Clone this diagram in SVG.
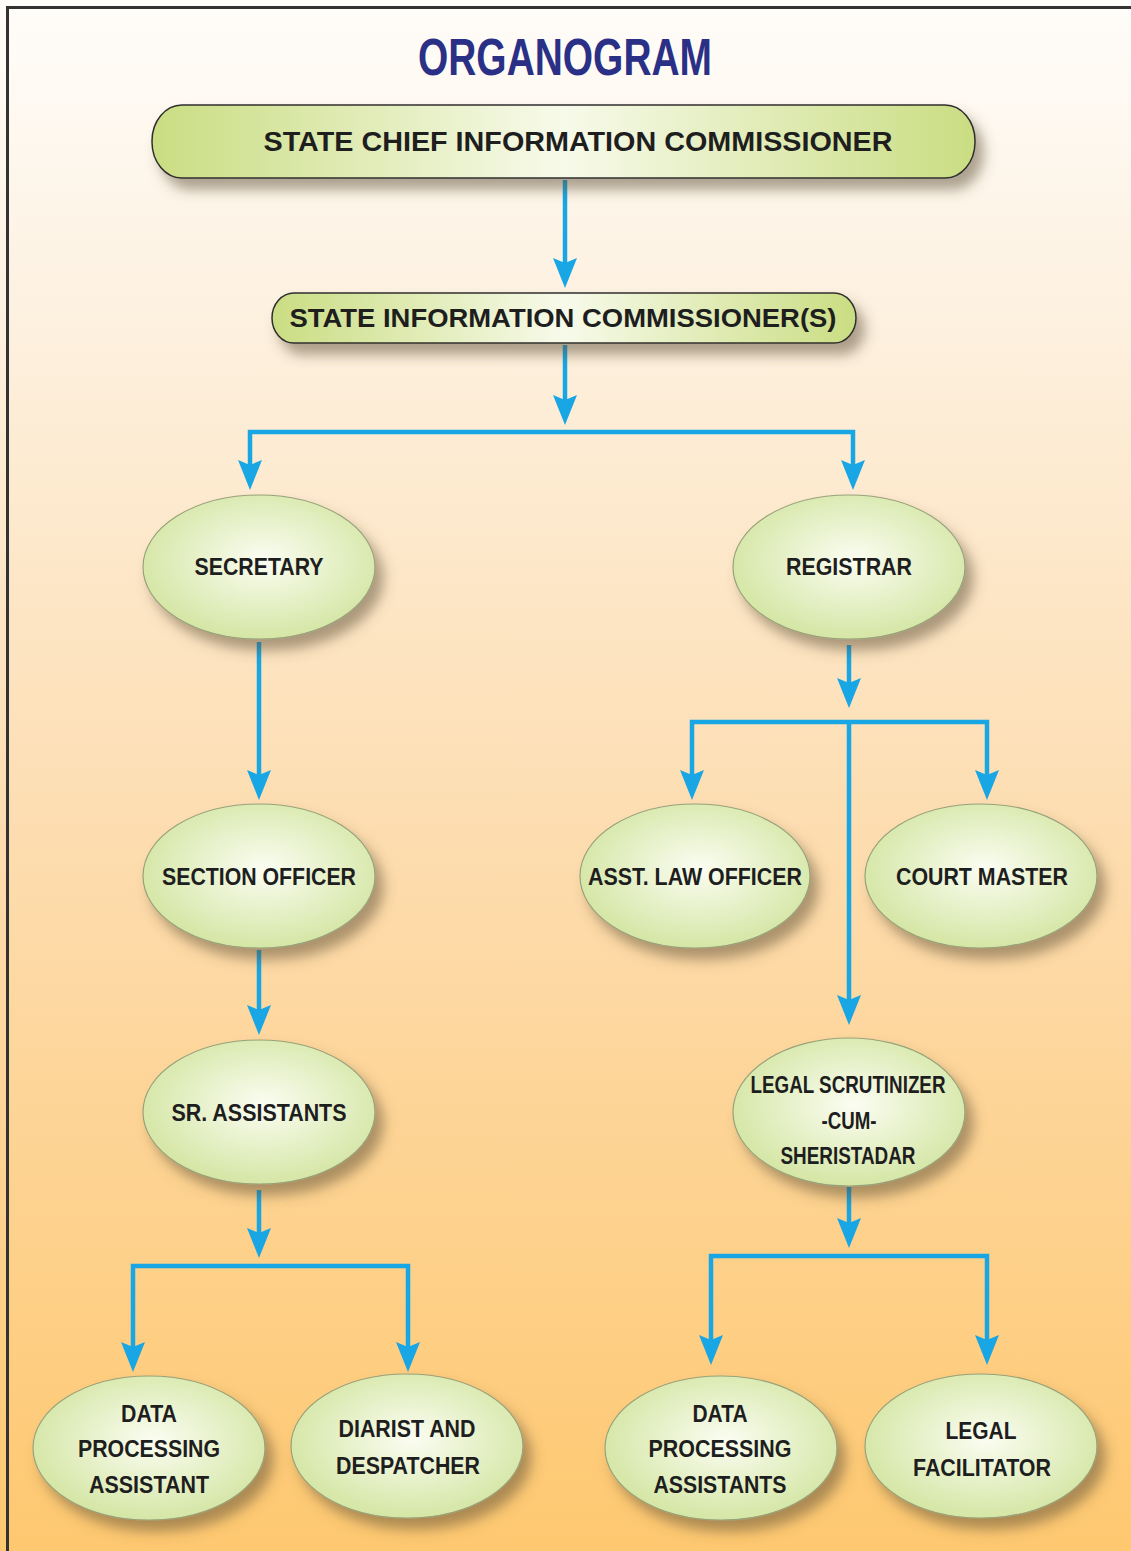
<svg xmlns="http://www.w3.org/2000/svg" width="1131" height="1551" viewBox="0 0 1131 1551">
<style>
.lbl{font-family:"Liberation Sans",Arial,sans-serif;font-weight:bold;font-size:24px;fill:#1e1e1e;text-anchor:middle}
.pt{font-family:"Liberation Sans",Arial,sans-serif;font-weight:bold;fill:#1e1e1e;text-anchor:middle}
.title{font-family:"Liberation Sans",Arial,sans-serif;font-weight:bold;font-size:52px;fill:#2b3087;text-anchor:middle}
.ell{fill:url(#eg);stroke:#98a27a;stroke-width:1.2;filter:url(#sh)}
.pill{fill:url(#pg);stroke:#2f2f2f;stroke-width:1.5;filter:url(#sh)}
.con{fill:none;stroke:#18a6e4;stroke-width:4.5;stroke-linejoin:miter}
.arr{marker-end:url(#ah)}
</style>
<defs>
<linearGradient id="bg" x1="0" y1="0" x2="0" y2="1">
<stop offset="0" stop-color="#fffdfa"/>
<stop offset="0.2" stop-color="#fdf1e0"/>
<stop offset="0.55" stop-color="#fddcae"/>
<stop offset="1" stop-color="#fec870"/>
</linearGradient>
<linearGradient id="pg" x1="0" y1="0" x2="1" y2="0">
<stop offset="0" stop-color="#cadd82"/>
<stop offset="0.5" stop-color="#f7faea"/>
<stop offset="1" stop-color="#cadd82"/>
</linearGradient>
<radialGradient id="eg" cx="0.52" cy="0.45" r="0.6">
<stop offset="0" stop-color="#fbfdf2"/>
<stop offset="1" stop-color="#d1e49e"/>
</radialGradient>
<filter id="sh" x="-20%" y="-20%" width="150%" height="170%">
<feDropShadow dx="8" dy="11" stdDeviation="6.5" flood-color="#5a4a30" flood-opacity="0.5"/>
</filter>
<marker id="ah" viewBox="0 -12 30 24" refX="10" refY="0" markerWidth="30" markerHeight="24" markerUnits="userSpaceOnUse" orient="auto">
<path d="M0,-12 L30,0 L0,12 L5,0 Z" fill="#18a6e4"/>
</marker>
</defs>
<rect x="0" y="0" width="1131" height="1551" fill="url(#bg)"/>
<path d="M7.5,1551 V7.5 H1131" fill="none" stroke="#333" stroke-width="3"/>
<text class="title" x="565" y="75" textLength="294" lengthAdjust="spacingAndGlyphs">ORGANOGRAM</text>

<g id="connectors">
<path class="con arr" d="M565,180 V268"/>
<path class="con arr" d="M565,345 V405"/>
<path class="con arr" d="M565,432 H250 V470"/>
<path class="con arr" d="M565,432 H853 V470"/>
<path class="con arr" d="M259,642 V780"/>
<path class="con arr" d="M259,950 V1015"/>
<path class="con arr" d="M259,1190 V1238"/>
<path class="con arr" d="M259,1266 H133 V1352"/>
<path class="con arr" d="M259,1266 H408 V1352"/>
<path class="con arr" d="M849,645 V688"/>
<path class="con arr" d="M849,722 H692 V780"/>
<path class="con arr" d="M849,722 H987 V780"/>
<path class="con arr" d="M849,722 V1005"/>
<path class="con arr" d="M849,1187 V1228"/>
<path class="con arr" d="M849,1256 H711 V1345"/>
<path class="con arr" d="M849,1256 H987 V1345"/>
</g>

<g id="n-chief">
<rect class="pill" x="152" y="105" width="823" height="73" rx="30" ry="36"/>
<text class="pt" x="578" y="151" font-size="27" textLength="629" lengthAdjust="spacingAndGlyphs">STATE CHIEF INFORMATION COMMISSIONER</text>
</g>
<g id="n-sic">
<rect class="pill" x="272" y="293" width="584" height="50" rx="22" ry="25"/>
<text class="pt" x="563" y="327" font-size="25" textLength="547" lengthAdjust="spacingAndGlyphs">STATE INFORMATION COMMISSIONER(S)</text>
</g>

<g id="n-secretary">
<ellipse class="ell" cx="259" cy="567" rx="116" ry="72"/>
<text class="lbl" x="259" y="575" textLength="129" lengthAdjust="spacingAndGlyphs">SECRETARY</text>
</g>
<g id="n-registrar">
<ellipse class="ell" cx="849" cy="567" rx="116" ry="72"/>
<text class="lbl" x="849" y="575" textLength="126" lengthAdjust="spacingAndGlyphs">REGISTRAR</text>
</g>
<g id="n-section">
<ellipse class="ell" cx="259" cy="876" rx="116" ry="72"/>
<text class="lbl" x="259" y="885" textLength="194" lengthAdjust="spacingAndGlyphs">SECTION OFFICER</text>
</g>
<g id="n-asstlaw">
<ellipse class="ell" cx="695" cy="876" rx="115" ry="72"/>
<text class="lbl" x="695" y="885" textLength="214" lengthAdjust="spacingAndGlyphs">ASST. LAW OFFICER</text>
</g>
<g id="n-court">
<ellipse class="ell" cx="981" cy="876" rx="116" ry="72"/>
<text class="lbl" x="982" y="885" textLength="172" lengthAdjust="spacingAndGlyphs">COURT MASTER</text>
</g>
<g id="n-sr">
<ellipse class="ell" cx="259" cy="1112" rx="116" ry="72"/>
<text class="lbl" x="259" y="1121" textLength="175" lengthAdjust="spacingAndGlyphs">SR. ASSISTANTS</text>
</g>
<g id="n-legalscr">
<ellipse class="ell" cx="849" cy="1112" rx="116" ry="74"/>
<text class="lbl" x="848" y="1093" font-size="23" textLength="195" lengthAdjust="spacingAndGlyphs">LEGAL SCRUTINIZER</text>
<text class="lbl" x="849" y="1129" font-size="23" textLength="55" lengthAdjust="spacingAndGlyphs">-CUM-</text>
<text class="lbl" x="848" y="1164" font-size="23" textLength="135" lengthAdjust="spacingAndGlyphs">SHERISTADAR</text>
</g>
<g id="n-dpa">
<ellipse class="ell" cx="149" cy="1448" rx="116" ry="72"/>
<text class="lbl" x="149" y="1422" textLength="56" lengthAdjust="spacingAndGlyphs">DATA</text>
<text class="lbl" x="149" y="1457" textLength="142" lengthAdjust="spacingAndGlyphs">PROCESSING</text>
<text class="lbl" x="149" y="1493" textLength="120" lengthAdjust="spacingAndGlyphs">ASSISTANT</text>
</g>
<g id="n-diarist">
<ellipse class="ell" cx="407" cy="1446" rx="116" ry="72"/>
<text class="lbl" x="407" y="1437" textLength="137" lengthAdjust="spacingAndGlyphs">DIARIST AND</text>
<text class="lbl" x="408" y="1474" textLength="144" lengthAdjust="spacingAndGlyphs">DESPATCHER</text>
</g>
<g id="n-dpas">
<ellipse class="ell" cx="721" cy="1448" rx="116" ry="72"/>
<text class="lbl" x="720" y="1422" textLength="55" lengthAdjust="spacingAndGlyphs">DATA</text>
<text class="lbl" x="720" y="1457" textLength="143" lengthAdjust="spacingAndGlyphs">PROCESSING</text>
<text class="lbl" x="720" y="1493" textLength="133" lengthAdjust="spacingAndGlyphs">ASSISTANTS</text>
</g>
<g id="n-legalfac">
<ellipse class="ell" cx="981" cy="1446" rx="116" ry="72"/>
<text class="lbl" x="981" y="1439" textLength="71" lengthAdjust="spacingAndGlyphs">LEGAL</text>
<text class="lbl" x="982" y="1476" textLength="138" lengthAdjust="spacingAndGlyphs">FACILITATOR</text>
</g>
</svg>
